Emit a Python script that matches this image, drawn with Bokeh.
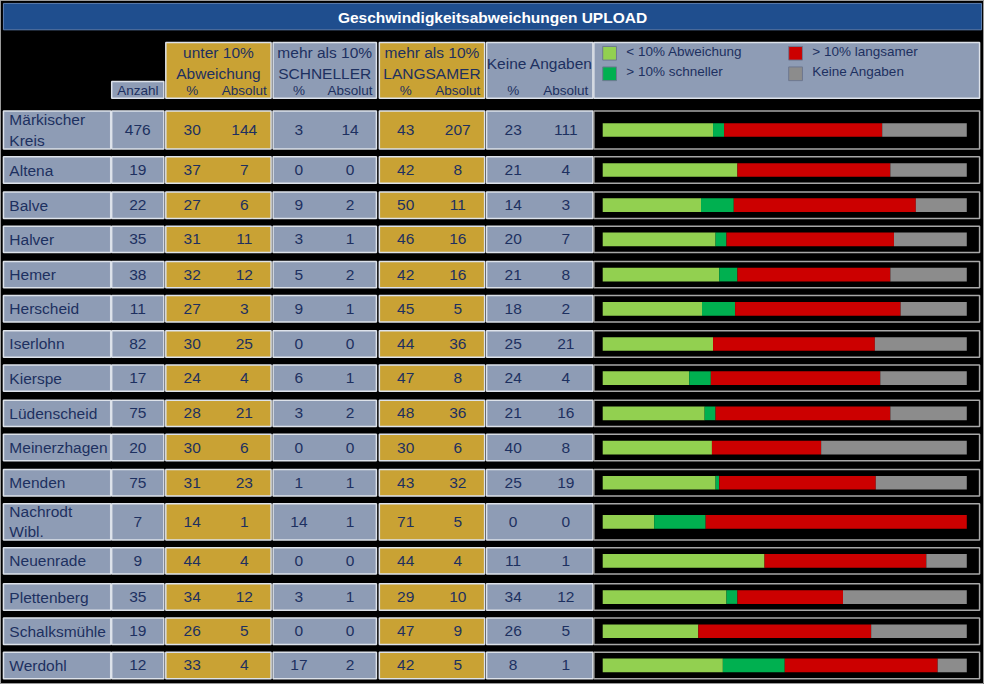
import numpy as np
from bokeh.plotting import figure
from bokeh.models import Range1d, ColumnDataSource
from bokeh.core.properties import value
from bokeh.embed import file_html
from bokeh.resources import INLINE

# ---------------- data ----------------
title = "Geschwindigkeitsabweichungen UPLOAD"
names = ["Märkischer\nKreis", "Altena", "Balve", "Halver", "Hemer", "Herscheid",
         "Iserlohn", "Kierspe", "Lüdenscheid", "Meinerzhagen", "Menden",
         "Nachrodt\nWibl.", "Neuenrade", "Plettenberg", "Schalksmühle", "Werdohl"]
anzahl = [476, 19, 22, 35, 38, 11, 82, 17, 75, 20, 75, 7, 9, 35, 19, 12]
unter_pct = [30, 37, 27, 31, 32, 27, 30, 24, 28, 30, 31, 14, 44, 34, 26, 33]
unter_abs = [144, 7, 6, 11, 12, 3, 25, 4, 21, 6, 23, 1, 4, 12, 5, 4]
schnell_pct = [3, 0, 9, 3, 5, 9, 0, 6, 3, 0, 1, 14, 0, 3, 0, 17]
schnell_abs = [14, 0, 2, 1, 2, 1, 0, 1, 2, 0, 1, 1, 0, 1, 0, 2]
langsam_pct = [43, 42, 50, 46, 42, 45, 44, 47, 48, 30, 43, 71, 44, 29, 47, 42]
langsam_abs = [207, 8, 11, 16, 16, 5, 36, 8, 36, 6, 32, 5, 4, 10, 9, 5]
keine_pct = [23, 21, 14, 20, 21, 18, 25, 24, 21, 40, 25, 0, 11, 34, 26, 8]
keine_abs = [111, 4, 3, 7, 8, 2, 21, 4, 16, 8, 19, 0, 1, 12, 5, 1]

group_titles = ["unter 10%\nAbweichung", "mehr als 10%\nSCHNELLER",
                "mehr als 10%\nLANGSAMER", "Keine Angaben"]
sub_labels = ["%", "Absolut"]
legend_labels = ["< 10% Abweichung", "> 10% schneller", "> 10% langsamer", "Keine Angaben"]

# ---------------- styles / layout ----------------
C_BLUE = "#8e9cb5"
C_GOLD = "#c9a234"
C_TXT = "#1d3060"
C_TITLE = "#1f4e8e"
C_EDGE = "#dde2ea"
bar_colors = ["#92d050", "#00b050", "#cc0000", "#8c8c8c"]
FONT = value("Liberation Sans")

row_top = [113, 160, 196, 231, 267, 302, 338, 373, 409, 444, 480, 515, 560, 597, 632, 667]
row_h = [39, 27, 27, 27, 27, 27, 27, 27, 27, 27, 27, 37, 27, 27, 27, 27]
row_top = np.array(row_top, float)
row_h = np.array(row_h, float)
row_bot = row_top + row_h
row_mid = row_top + row_h / 2

name_col = (3, 112)
anz_col = (113, 166)
groups = [(168, 275, C_GOLD), (277, 382, C_BLUE), (385, 492, C_GOLD), (494, 602, C_BLUE)]
panel = (603, 995)
BAR0, BAR_SCALE = 612, 3.70

p = figure(width=984, height=684, x_range=Range1d(0, 1000), y_range=Range1d(700, 0),
           output_backend="svg", toolbar_location=None, min_border=0,
           x_axis_location=None, y_axis_location=None,
           background_fill_color="black", border_fill_color="black")
p.outline_line_color = "#9a9a9a"
p.xgrid.visible = False
p.ygrid.visible = False
p.extra_x_ranges = {"pct": Range1d(-BAR0 / BAR_SCALE, (1000 - BAR0) / BAR_SCALE)}

# title bar
p.quad(left=[3], right=[997], top=[3], bottom=[30], fill_color=C_TITLE, line_color="#5f7fb0")
p.text(x=[500], y=[17], text=[title], text_color="white", text_font=FONT,
       text_font_style="bold", text_font_size="15.5px", text_align="center", text_baseline="middle")

# header cells
HT, HB = 43, 100
p.quad(left=[anz_col[0]], right=[anz_col[1]], top=[83], bottom=[HB],
       fill_color=C_BLUE, line_color=C_EDGE, line_width=1.5)
p.text(x=[(anz_col[0] + anz_col[1]) / 2], y=[92], text=["Anzahl"], text_color=C_TXT,
       text_font=FONT, text_font_size="13.5px", text_align="center", text_baseline="middle")
for (l, r, c), t in zip(groups, group_titles):
    p.quad(left=[l], right=[r], top=[HT], bottom=[HB], fill_color=c, line_color=C_EDGE, line_width=1.5)
    p.text(x=[(l + r) / 2], y=[64], text=[t], text_color=C_TXT, text_font=FONT,
           text_font_size="15.5px", text_align="center", text_baseline="middle", text_line_height=1.2)
    w = r - l
    p.text(x=[l + w * 0.25, l + w * 0.745], y=[92, 92], text=sub_labels, text_color=C_TXT,
           text_font=FONT, text_font_size="13.5px", text_align="center", text_baseline="middle")

# legend cell
p.quad(left=[panel[0]], right=[panel[1]], top=[HT], bottom=[HB], fill_color=C_BLUE,
       line_color=C_EDGE, line_width=1.5)
lx = [612, 612, 801, 801]
ly = [54, 75, 54, 75]
p.quad(left=lx, right=[x + 14 for x in lx], top=[y - 7 for y in ly], bottom=[y + 7 for y in ly],
       fill_color=bar_colors, line_color="#6d7890", line_width=1)
p.text(x=[x + 24 for x in lx], y=[y - 2 for y in ly], text=legend_labels, text_color=C_TXT,
       text_font=FONT, text_font_size="13.5px", text_align="left", text_baseline="middle")

# body cells
n = len(names)
def cells(l, r, color):
    p.quad(left=[l] * n, right=[r] * n, top=row_top, bottom=row_bot, fill_color=color,
           line_color=C_EDGE, line_width=1.5)

cells(*name_col, C_BLUE)
cells(*anz_col, C_BLUE)
for l, r, c in groups:
    cells(l, r, c)
p.quad(left=[panel[0]] * n, right=[panel[1]] * n, top=row_top, bottom=row_bot,
       fill_color="black", line_color="#a8a8a8", line_width=1.5)

# body texts
def txt(x, vals, **kw):
    p.text(x=[x] * n, y=row_mid, text=[str(v) for v in vals], text_color=C_TXT, text_font=FONT,
           text_font_size="15.5px", text_baseline="middle", **kw)

p.text(x=[9] * n, y=row_mid, text=names, text_color=C_TXT, text_font=FONT,
       text_font_size="15.5px", text_align="left", text_baseline="middle", text_line_height=1.2)
txt((anz_col[0] + anz_col[1]) / 2, anzahl, text_align="center")
cols = [(unter_pct, unter_abs), (schnell_pct, schnell_abs), (langsam_pct, langsam_abs), (keine_pct, keine_abs)]
for (l, r, c), (pc, ab) in zip(groups, cols):
    w = r - l
    txt(l + w * 0.25, pc, text_align="center")
    txt(l + w * 0.745, ab, text_align="center")

# stacked bars (shares of each row's total, so every bar spans the full width)
series = [np.array(s, float) for s in (unter_pct, schnell_pct, langsam_pct, keine_pct)]
total = sum(series)
left = np.zeros(n)
for v, col in zip(series, bar_colors):
    share = v / total * 100
    src = ColumnDataSource(dict(y=row_mid, left=left.copy(), right=left + share))
    p.hbar(y="y", left="left", right="right", height=14, source=src, fill_color=col,
           line_color=None, x_range_name="pct")
    left = left + share

open("out.html", "w").write(file_html(p, INLINE))
